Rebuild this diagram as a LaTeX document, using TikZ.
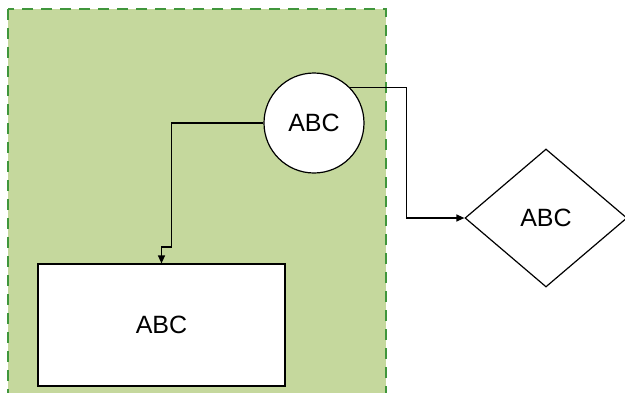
\documentclass[tikz,border=0pt]{standalone}
\usepackage{fontspec}
\setmainfont{Liberation Sans}
\usetikzlibrary{shapes.geometric,arrows.meta}
\definecolor{zonefill}{RGB}{197,216,157}
\definecolor{zoneline}{RGB}{64,150,60}
\begin{document}
\begin{tikzpicture}[
    x=1pt, y=-1pt,
    zone/.style={draw=zoneline, fill=zonefill, dash pattern=on 11pt off 8pt, line width=1.4pt},
    round/.style={circle, draw=black, fill=white, line width=1.2pt, minimum size=100pt, inner sep=0pt, font=\fontsize{25}{29}\selectfont},
    box/.style={rectangle, draw=black, fill=white, line width=1.2pt, minimum width=247pt, minimum height=122pt, inner sep=0pt, font=\fontsize{25}{29}\selectfont},
    choice/.style={diamond, draw=black, fill=white, line width=1.2pt, minimum width=162pt, minimum height=138pt, inner sep=0pt, font=\fontsize{25}{29}\selectfont},
    arrow/.style={-{Triangle[length=8pt, width=7pt]}, line width=1.2pt},
]
    \useasboundingbox (0,0) rectangle (625,392);

    % Zone
    \path[zone] (8,9) rectangle (386,394);

    % Shapes
    \node[round] (circ) at (314,123) {ABC};
    \node[box] (rect) at (161.5,325) {ABC};
    \node[choice] (diam) at (546,218) {ABC};

    % Connectors
    \draw[arrow] (circ.west) -| ++(-92,124) -| (rect.north);
    \draw[arrow] (circ.north east) -- ++(57,0) |- (diam.west);
\end{tikzpicture}
\end{document}
